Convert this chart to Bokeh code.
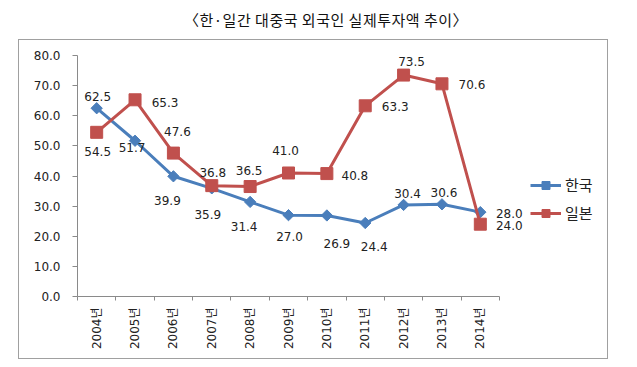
import math
import numpy as np
from bokeh.plotting import figure
from bokeh.layouts import column
from bokeh.models import (FixedTicker, Legend, LegendItem, Div,
                          Range1d, NumeralTickFormatter, ColumnDataSource)
from bokeh.core.properties import value
from bokeh.embed import file_html
from bokeh.resources import INLINE

# ---- data ----
years = ["2004년", "2005년", "2006년", "2007년", "2008년", "2009년",
         "2010년", "2011년", "2012년", "2013년", "2014년"]
korea = [62.5, 51.7, 39.9, 35.9, 31.4, 27.0, 26.9, 24.4, 30.4, 30.6, 28.0]
japan = [54.5, 65.3, 47.6, 36.8, 36.5, 41.0, 40.8, 63.3, 73.5, 70.6, 24.0]
y_ticks = [0, 10, 20, 30, 40, 50, 60, 70, 80]
series_names = ["한국", "일본"]
title_text = "〈한·일간 대중국 외국인 실제투자액 추이〉"

# label offsets in pixels (dx right, dy down)
korea_dx = [1, -3, -6, -4, -6, 1, 10, 9, 4, 2, 29]
korea_dy = [-12, 7, 24, 26, 25, 21, 28, 24, -11, -12, 1]
japan_dx = [1, 30, 4, 1, -1, -3, 28, 30, 8, 30, 29]
japan_dy = [19, 3, -22, -13, -16, -22, 2, 1, -14, 1, 1]

BLUE = "#4A7EBB"
RED = "#C0504D"
NUM_FONT = "DejaVu Sans"
KR_FONT = "Noto Sans CJK KR"

n = len(years)
xc = np.arange(n) + 0.5

FIG_W, FIG_H = 590, 320
BL, BR, BT, BB = 58, 5, 15, 64
frame_w = FIG_W - BL - BR
axis_px = 422  # pixel length of the category axis
x_end = n * frame_w / axis_px

p = figure(width=FIG_W, height=FIG_H, output_backend="svg", toolbar_location=None,
           x_range=Range1d(0, x_end), y_range=Range1d(0, 80),
           min_border_left=BL, min_border_right=BR, min_border_top=BT,
           min_border_bottom=BB,
           styles={"margin-left": "18px", "border": "1px solid #a0a0a0"})
p.outline_line_color = None
p.xgrid.visible = False
p.ygrid.visible = False
p.background_fill_color = "white"
p.border_fill_color = "white"

# y axis
p.yaxis.ticker = FixedTicker(ticks=y_ticks, minor_ticks=[])
p.yaxis.formatter = NumeralTickFormatter(format="0.0")
p.yaxis.major_tick_out = 5
p.yaxis.major_tick_in = 0
p.yaxis.axis_line_color = "#8a8a8a"
p.yaxis.major_tick_line_color = "#8a8a8a"
p.yaxis.major_label_text_font = NUM_FONT
p.yaxis.major_label_text_font_size = "12px"
p.yaxis.major_label_text_color = "#222222"
p.yaxis.major_label_standoff = 12

# x axis
p.xaxis.bounds = (0, n)
p.xaxis.ticker = FixedTicker(ticks=list(xc), minor_ticks=list(range(n + 1)))
p.xaxis.major_label_overrides = {float(v): yr for v, yr in zip(xc, years)}
p.xaxis.major_label_orientation = math.pi / 2
p.xaxis.major_tick_line_color = None
p.xaxis.minor_tick_line_color = "#8a8a8a"
p.xaxis.minor_tick_out = 4
p.xaxis.minor_tick_in = 0
p.xaxis.axis_line_color = "#8a8a8a"
p.xaxis.major_label_text_font = NUM_FONT + ", " + KR_FONT
p.xaxis.major_label_text_font_size = "12px"
p.xaxis.major_label_text_color = "#222222"
p.xaxis.major_label_standoff = 5

# series
kl = p.line(xc, korea, line_color=BLUE, line_width=3)
ks = p.scatter(xc, korea, marker="square", angle=math.pi / 4, size=8,
               fill_color=BLUE, line_color=BLUE)
jl = p.line(xc, japan, line_color=RED, line_width=3)
js = p.scatter(xc, japan, marker="square", size=12, fill_color=RED, line_color=RED)

# data labels
for vals, dx, dy in ((korea, korea_dx, korea_dy), (japan, japan_dx, japan_dy)):
    src = ColumnDataSource(dict(x=xc, y=vals, t=[f"{v:.1f}" for v in vals], dx=dx, dy=dy))
    p.text(x="x", y="y", text="t", x_offset="dx", y_offset="dy", source=src,
           text_align="center", text_baseline="middle",
           text_font=value(NUM_FONT), text_font_size="12px", text_color="#222222")

legend = Legend(items=[LegendItem(label=series_names[0], renderers=[kl, ks]),
                       LegendItem(label=series_names[1], renderers=[jl, js])],
                location=(453, 73), glyph_width=31, glyph_height=20, spacing=7,
                padding=0, margin=0, label_standoff=4, border_line_color=None,
                background_fill_alpha=0, label_text_font=KR_FONT,
                label_text_font_size="15px", label_text_color="#222222")
p.add_layout(legend)

title = Div(text=('<div style="width:621px;text-align:center;text-indent:21px;'
                  'font-family:\'Noto Sans CJK KR\';font-size:15px;line-height:30px;'
                  'letter-spacing:0.5px;color:#111;">' + title_text + '</div>'),
            width=621, height=29)

layout = column(title, p, spacing=0)
open("out.html", "w").write(file_html(layout, INLINE))
